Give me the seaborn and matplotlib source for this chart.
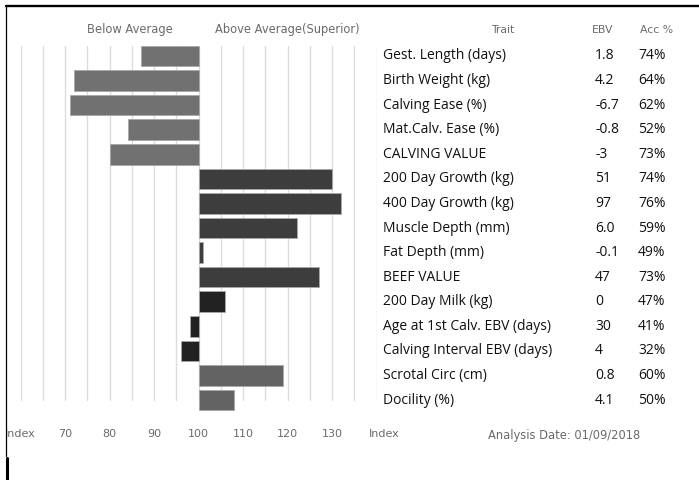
import matplotlib
matplotlib.use("Agg")
import matplotlib.pyplot as plt
import matplotlib.transforms as mtransforms
from matplotlib.lines import Line2D
import pandas as pd
import seaborn as sns

# Chart values
traits = ["Gest. Length (days)", "Birth Weight (kg)", "Calving Ease (%)",
          "Mat.Calv. Ease (%)", "CALVING VALUE", "200 Day Growth (kg)",
          "400 Day Growth (kg)", "Muscle Depth (mm)", "Fat Depth (mm)",
          "BEEF VALUE", "200 Day Milk (kg)", "Age at 1st Calv. EBV (days)",
          "Calving Interval EBV (days)", "Scrotal Circ (cm)", "Docility (%)"]
index_values = [87, 72, 71, 84, 80, 130, 132, 122, 101, 127, 106, 98, 96, 119, 108]
ebv = ["1.8", "4.2", "-6.7", "-0.8", "-3", "51", "97", "6.0", "-0.1", "47",
       "0", "30", "4", "0.8", "4.1"]
acc = ["74%", "64%", "62%", "52%", "73%", "74%", "76%", "59%", "49%", "73%",
       "47%", "41%", "32%", "60%", "50%"]
groups = ["calving"] * 5 + ["growth"] * 5 + ["maternal"] * 3 + ["other"] * 2
tick_values = [60, 70, 80, 90, 100, 110, 120, 130]
tick_labels = ["Index", "70", "80", "90", "100", "110", "120", "130"]

group_colors = {"calving": "#717171", "growth": "#3d3d3d",
                "maternal": "#222222", "other": "#636363"}

sns.set_style("white")
plt.rcParams['font.family'] = ['DejaVu Sans']

W, H = 699, 480
fig = plt.figure(figsize=(W / 100, H / 100), dpi=100)
# axes spans index 60..140 and rows -0.5..14.5
ax = fig.add_axes([20.7 / W, 1 - 412.3 / H, (376.7 - 20.7) / W, (412.3 - 43.7) / H])

df = pd.DataFrame({"trait": traits, "value": index_values, "group": groups})
df["row"] = range(len(df))
df["offset"] = df["value"] - 100

# gridlines every 5 index points, from top of first bar to centre of last bar
for g in range(60, 141, 5):
    ax.plot([g, g], [-0.42, 14], color="#dcdcdc", lw=1, zorder=0)

for _, r in df.iterrows():
    ax.barh(r["row"], r["offset"], left=100, height=0.84,
            color=group_colors[r["group"]], edgecolor="#a8a8a8", linewidth=0.6,
            zorder=2)

ax.set_yticks([])
ax.set_xticks(tick_values)
ax.set_xticklabels(tick_labels, fontsize=8, color="#6a6a6a")
ax.set_xlim(60, 140)
ax.set_ylim(14.5, -0.5)
ax.tick_params(axis="x", length=0, pad=12)
for s in ax.spines.values():
    s.set_visible(False)
ax.patch.set_alpha(0)

# right-hand "Index" label sits just past the axis end
xt = mtransforms.blended_transform_factory(ax.transData, fig.transFigure)
ax.text(141.7, 1 - 434 / H, "Index", transform=xt, fontsize=8, color="#6a6a6a",
        ha="center", va="center", clip_on=False)

# table to the right
tr = mtransforms.blended_transform_factory(fig.transFigure, ax.transData)
tfont = ['Open Sans', 'DejaVu Sans']
for i in range(len(traits)):
    ax.text(383 / W, i, traits[i], transform=tr, fontsize=10, family=tfont,
            color="#111111", va="center", ha="left", clip_on=False)
    ax.text(595 / W, i, ebv[i], transform=tr, fontsize=10, family=tfont,
            color="#111111", va="center", ha="left", clip_on=False)
    ax.text(638 / W, i, acc[i], transform=tr, fontsize=10, family=tfont,
            color="#111111", va="center", ha="left", clip_on=False)

hy = -1.06
ax.text(503 / W, hy, "Trait", transform=tr, fontsize=7.8,
        color="#6a6a6a", ha="center", va="center", clip_on=False)
ax.text(603 / W, hy, "EBV", transform=tr, fontsize=7.8,
        color="#6a6a6a", ha="center", va="center", clip_on=False)
ax.text(657 / W, hy, "Acc %", transform=tr, fontsize=7.8,
        color="#6a6a6a", ha="center", va="center", clip_on=False)

ax.text(130 / W, hy, "Below Average", transform=tr, fontsize=8.3,
        color="#6a6a6a", ha="center", va="center", clip_on=False)
ax.text(287 / W, hy, "Above Average(Superior)", transform=tr, fontsize=8.3,
        color="#6a6a6a", ha="center", va="center", clip_on=False)

fig.text(564 / W, 1 - 435 / H, "Analysis Date: 01/09/2018", fontsize=8.3,
         color="#6a6a6a", ha="center", va="center")

# frame lines (top and left)
fig.add_artist(Line2D([6 / W, 1], [1 - 6 / H, 1 - 6 / H], color="black", lw=1.7,
                      transform=fig.transFigure))
fig.add_artist(Line2D([6 / W, 6 / W], [1 - 6 / H, 1 - 456 / H], color="black", lw=0.9,
                      transform=fig.transFigure))
fig.add_artist(Line2D([6.5 / W, 6.5 / W], [1 - 458 / H, 0], color="black", lw=2.2,
                      transform=fig.transFigure))

fig.savefig("out.png", dpi=100, facecolor="white")
